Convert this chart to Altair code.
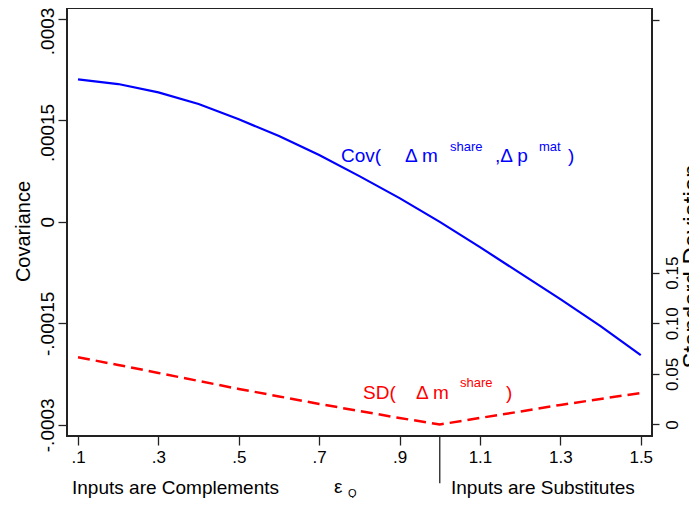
import altair as alt
import pandas as pd

# ---- data ----
eps = [0.1, 0.2, 0.3, 0.4, 0.5, 0.6, 0.7, 0.8, 0.9, 1.0, 1.1, 1.2, 1.3, 1.4, 1.5]
cov = [0.0002107, 0.0002037, 0.0001914, 0.0001741, 0.0001515, 0.0001268, 0.0000987,
       0.0000676, 0.0000351, 0.0, -0.0000374, -0.0000759, -0.0001143, -0.0001543, -0.0001972]
sd = [0.0664, 0.0588, 0.0509, 0.0430, 0.0351, 0.0277, 0.0203, 0.0133, 0.0064, 0.0,
      0.0064, 0.0128, 0.0193, 0.0252, 0.0311]

x_ticks = [0.1, 0.3, 0.5, 0.7, 0.9, 1.1, 1.3, 1.5]
left_ticks = [-0.0003, -0.00015, 0.0, 0.00015, 0.0003]
right_ticks = [0.0, 0.05, 0.10, 0.15, 0.4]

# label pieces for the blue curve (x in eps units, y in covariance units)
cov_lab_text = ["Cov(", "\u0394 m", "share", ",\u0394 p", "mat", ")"]
cov_lab_x = [0.7542, 0.9134, 1.0254, 1.1373, 1.2468, 1.3189]
cov_lab_y = [0.0000883, 0.0000883, 0.0001046, 0.0000883, 0.0001046, 0.0000883]
cov_lab_size = [19, 19, 13, 19, 13, 19]

# label pieces for the red curve (y in standard-deviation units)
sd_lab_text = ["SD(", "\u0394 m", "share", ")"]
sd_lab_x = [0.8090, 0.9408, 1.0503, 1.1647]
sd_lab_y = [0.0252, 0.0252, 0.0371, 0.0252]
sd_lab_size = [19, 19, 13, 19]

# bottom annotations (y in covariance units, below the plot frame)
bot_text = ["Inputs are Complements", "\u03b5", "Q", "Inputs are Substitutes"]
bot_x = [0.0851, 0.7368, 0.7717, 1.0279]
bot_y = [-0.0004028, -0.0004013, -0.0004073, -0.0004028]
bot_size = [19, 19, 11, 19]

sep_x = [1.0]
sep_y = [-0.0003166]
sep_y2 = [-0.0003865]

FONT = "Liberation Sans"
X_DOM = [0.0726, 1.528]
L_DOM = [-0.0003166, 0.0003161]
R_DOM = [-0.0114, 0.4115]

df = pd.DataFrame({"eps": eps, "cov": cov, "sd": sd})
cov_lab = pd.DataFrame({"x": cov_lab_x, "y": cov_lab_y, "t": cov_lab_text, "s": cov_lab_size})
sd_lab = pd.DataFrame({"x": sd_lab_x, "y": sd_lab_y, "t": sd_lab_text, "s": sd_lab_size})
bot = pd.DataFrame({"x": bot_x, "y": bot_y, "t": bot_text, "s": bot_size})
sep = pd.DataFrame({"x": sep_x, "y": sep_y, "y2": sep_y2})

xscale = alt.Scale(domain=X_DOM, nice=False, zero=False)
lscale = alt.Scale(domain=L_DOM, nice=False, zero=False)
rscale = alt.Scale(domain=R_DOM, nice=False, zero=False)

x_axis = alt.Axis(
    values=x_ticks,
    labelExpr="datum.value < 1 ? substring(format(datum.value, '.1f'), 1) : format(datum.value, '.1f')",
    tickSize=9, labelFontSize=17, labelPadding=4, title=None, labelOverlap=False,
    labelFlush=False,
)
left_axis = alt.Axis(
    values=left_ticks,
    labelExpr="datum.value > 0.0002 ? '.0003' : datum.value > 0.0001 ? '.00015' : datum.value > -0.0001 ? '0' : datum.value > -0.0002 ? '-.00015' : '-.0003'",
    labelAngle=270, labelAlign="center", labelBaseline="bottom",
    labelOffset={"condition": {"test": "datum.value > 0.0001", "value": 12}, "value": 0},
    tickSize=9, labelFontSize=19, labelPadding=1, labelOverlap=False, labelFlush=False,
    title="Covariance", titleFontSize=20, titleFontWeight="normal",
    titleAngle=270, titleAlign="center", titleBaseline="alphabetic",
    titleX=-38, titleY=223,
)
right_axis = alt.Axis(
    orient="right",
    values=right_ticks,
    labelExpr="datum.value > 0.3 ? '' : datum.value == 0 ? '0' : format(datum.value, '.2f')",
    labelAngle=270, labelAlign="center", labelBaseline="top",
    tickSize=7, labelFontSize=17, labelPadding=5, labelOverlap=False, labelFlush=False,
    title="Standard Deviation", titleFontSize=24, titleFontWeight="normal",
    titleAngle=270, titleAlign="center", titleBaseline="alphabetic",
    titleX=47, titleY=258,
)

X = lambda f: alt.X(f, scale=xscale, axis=x_axis)
YL = lambda f: alt.Y(f, scale=lscale, axis=left_axis)
YR = lambda f: alt.Y(f, scale=rscale, axis=right_axis)

blue = alt.Chart(df).mark_line(color="#0000ff", strokeWidth=2.2).encode(
    x=X("eps:Q"), y=YL("cov:Q"),
)

cov_text = alt.Chart(cov_lab).mark_text(
    color="#0000ff", align="left", baseline="alphabetic", font=FONT
).encode(
    x=X("x:Q"), y=YL("y:Q"), text="t:N",
    size=alt.Size("s:Q", scale=None, legend=None),
)

bot_text_ch = alt.Chart(bot).mark_text(
    color="#000000", align="left", baseline="alphabetic", font=FONT
).encode(
    x=X("x:Q"), y=YL("y:Q"), text="t:N",
    size=alt.Size("s:Q", scale=None, legend=None),
)

sep_rule = alt.Chart(sep).mark_rule(color="#222222", strokeWidth=1.3).encode(
    x=X("x:Q"), y=YL("y:Q"), y2="y2:Q",
)

left_group = alt.layer(blue, cov_text, bot_text_ch, sep_rule)

red = alt.Chart(df).mark_line(color="#ff0000", strokeWidth=2.5, strokeDash=[12, 6]).encode(
    x=X("eps:Q"), y=YR("sd:Q"),
)

sd_text = alt.Chart(sd_lab).mark_text(
    color="#ff0000", align="left", baseline="alphabetic", font=FONT
).encode(
    x=X("x:Q"), y=YR("y:Q"), text="t:N",
    size=alt.Size("s:Q", scale=None, legend=None),
)

right_group = alt.layer(red, sd_text)

chart = alt.layer(left_group, right_group).resolve_scale(y="independent").properties(
    width=585,
    height=428,
    autosize=alt.AutoSizeParams(type="none"),
    padding={"left": 59, "top": 0, "right": 37, "bottom": 62},
).configure(
    font=FONT,
).configure_view(
    stroke="#222222", strokeWidth=2,
).configure_axis(
    domain=False, grid=False, tickColor="#222222", tickWidth=1.3,
    labelColor="#000000", titleColor="#000000", labelFont=FONT, titleFont=FONT,
)

chart.save("out.html", embed_options={"renderer": "svg", "actions": False})
